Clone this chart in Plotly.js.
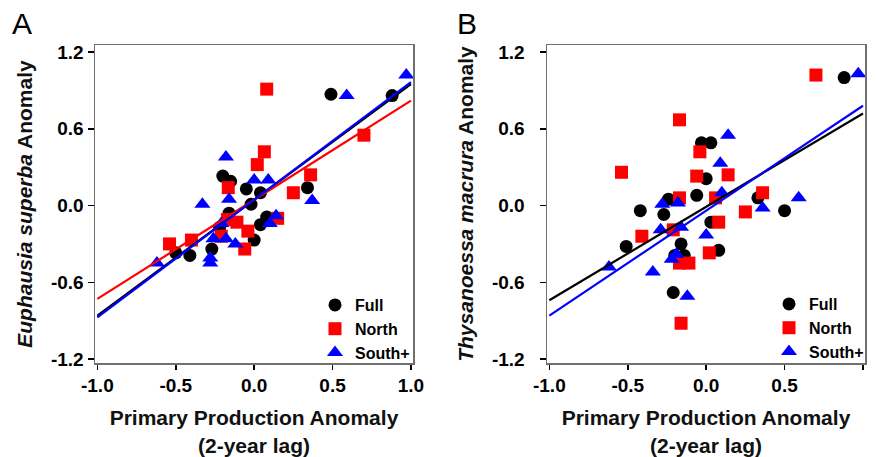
<!DOCTYPE html>
<html>
<head>
<meta charset="utf-8">
<script src="https://cdn.plot.ly/plotly-3.0.1.min.js"></script>
<style>html,body{margin:0;padding:0;background:#fff;}#chart{width:876px;height:457px;}</style>
</head>
<body>
<div id="chart"></div>
<script>
// ---------- Data ----------
// Panel A: Euphausia superba anomaly vs primary production anomaly (2-yr lag)
const fullAx  = [0.49, 0.88, 0.34, -0.20, -0.15, -0.05, 0.04, -0.02, -0.16, 0.04, 0.08, -0.22, -0.27, 0.00, -0.50, -0.41];
const fullAy  = [0.87, 0.86, 0.14, 0.23, 0.19, 0.13, 0.10, 0.01, -0.06, -0.15, -0.09, -0.17, -0.34, -0.27, -0.37, -0.39];
const northAx = [0.08, 0.70, 0.36, 0.25, 0.065, 0.02, -0.165, 0.15, -0.17, -0.11, -0.04, -0.21, -0.06, -0.54, -0.40];
const northAy = [0.91, 0.55, 0.24, 0.10, 0.42, 0.32, 0.14, -0.10, -0.11, -0.13, -0.20, -0.24, -0.34, -0.30, -0.27];
const southAx = [0.59, 0.97, 0.37, -0.18, 0.00, 0.09, -0.33, -0.16, 0.14, 0.10, -0.21, -0.26, -0.18, -0.12, -0.28, -0.28, -0.62];
const southAy = [0.86, 1.02, 0.04, 0.38, 0.20, 0.20, 0.01, 0.05, -0.08, -0.14, -0.14, -0.26, -0.26, -0.30, -0.41, -0.45, -0.45];

// Panel B: Thysanoessa macrura anomaly
const fullBx  = [0.88, -0.03, 0.03, 0.00, -0.06, 0.33, -0.24, -0.42, -0.27, 0.50, 0.03, 0.08, -0.51, -0.16, -0.20, -0.14, -0.21];
const fullBy  = [1.00, 0.49, 0.49, 0.21, 0.08, 0.06, 0.05, -0.04, -0.07, -0.04, -0.13, -0.35, -0.32, -0.30, -0.39, -0.39, -0.68];
const northBx = [0.70, -0.17, -0.04, -0.54, -0.06, 0.14, 0.36, -0.17, 0.06, 0.25, 0.08, 0.02, -0.41, -0.21, -0.17, -0.11, -0.16];
const northBy = [1.02, 0.67, 0.42, 0.26, 0.23, 0.24, 0.10, 0.06, 0.06, -0.05, -0.13, -0.37, -0.24, -0.19, -0.45, -0.45, -0.92];
const southBx = [0.97, 0.14, 0.09, 0.10, 0.59, -0.28, -0.18, 0.36, 0.00, -0.29, -0.16, -0.62, -0.22, -0.19, -0.34, -0.12];
const southBy = [1.03, 0.55, 0.33, 0.10, 0.06, 0.01, 0.02, -0.02, -0.23, -0.19, -0.17, -0.48, -0.42, -0.38, -0.52, -0.71];

// Regression line end points
const fitX       = [-1.0, 1.0];
const fitFullA   = [-0.86, 0.95];
const fitNorthA  = [-0.73, 0.82];
const fitSouthA  = [-0.875, 0.965];
const fitFullB   = [-0.74, 0.72];
const fitSouthB  = [-0.86, 0.78];

// Ticks
const xTickVals = [-1.0, -0.5, 0.0, 0.5, 1.0];
const xTickText = ["-1.0", "-0.5", "0.0", "0.5", "1.0"];
const yTickVals = [-1.2, -0.6, 0.0, 0.6, 1.2];
const yTickText = ["-1.2", "-0.6", "0.0", "0.6", "1.2"];

const seriesNames = ["Full", "North", "South+"];

// ---------- Styles ----------
const FONT = "Liberation Sans, Arial, sans-serif";
const cFull = "#000000", cNorth = "#ff0000", cSouth = "#0000ff";
const mFull  = {symbol: "circle", size: 13, color: cFull};
const mNorth = {symbol: "square", size: 13, color: cNorth};
const mSouth = {symbol: "triangle-up", size: 14, color: cSouth};

function pts(x, y, name, marker, xa, ya, leg) {
  return {type: "scatter", mode: "markers", x: x, y: y, name: name, marker: marker,
          xaxis: xa, yaxis: ya, legend: leg, hoverinfo: "skip", cliponaxis: false};
}
function line(x, y, color, xa, ya) {
  return {type: "scatter", mode: "lines", x: x, y: y, line: {color: color, width: 2.2},
          xaxis: xa, yaxis: ya, showlegend: false, hoverinfo: "skip"};
}

const traces = [
  pts(fullAx, fullAy, seriesNames[0], mFull, "x", "y", "legend"),
  pts(northAx, northAy, seriesNames[1], mNorth, "x", "y", "legend"),
  pts(southAx, southAy, seriesNames[2], mSouth, "x", "y", "legend"),
  line(fitX, fitFullA, cFull, "x", "y"),
  line(fitX, fitNorthA, cNorth, "x", "y"),
  line(fitX, fitSouthA, cSouth, "x", "y"),
  pts(fullBx, fullBy, seriesNames[0], mFull, "x2", "y2", "legend2"),
  pts(northBx, northBy, seriesNames[1], mNorth, "x2", "y2", "legend2"),
  pts(southBx, southBy, seriesNames[2], mSouth, "x2", "y2", "legend2"),
  line(fitX, fitFullB, cFull, "x2", "y2"),
  line(fitX, fitSouthB, cSouth, "x2", "y2")
];

const W = 876, H = 457;
const yDom = [1 - 363 / H, 1 - 45 / H];

function xAxis(domain, anchor) {
  return {
    domain: domain, anchor: anchor, range: [-1.015, 1.013],
    tickvals: xTickVals, ticktext: xTickText,
    ticks: "outside", ticklen: 5, tickwidth: 1.5, tickcolor: "#000",
    showline: true, mirror: true, linecolor: "#707070", linewidth: 1.5,
    showgrid: false, zeroline: false,
    tickfont: {family: FONT, size: 19, color: "#000", weight: "bold"},
    title: {text: "<b>Primary Production Anomaly<br>(2-year lag)</b>",
            font: {family: FONT, size: 21, color: "#111"}, standoff: 15}
  };
}
function yAxis(anchor, titleText, extraStandoff) {
  return {
    domain: yDom, anchor: anchor, range: [-1.231, 1.255],
    tickvals: yTickVals, ticktext: yTickText,
    ticks: "outside", ticklen: 6, tickwidth: 1.5, tickcolor: "#000",
    ticklabelstandoff: extraStandoff,
    showline: true, mirror: true, linecolor: "#707070", linewidth: 1.5,
    showgrid: false, zeroline: false,
    tickfont: {family: FONT, size: 19, color: "#000", weight: "bold"},
    title: {text: titleText, font: {family: FONT, size: 21, color: "#111"}, standoff: 12}
  };
}

const legendStyle = {
  font: {family: FONT, size: 16, color: "#000", weight: "bold"},
  bgcolor: "rgba(0,0,0,0)", borderwidth: 0,
  xanchor: "left", yanchor: "top", itemwidth: 30, tracegroupgap: 0
};

const layout = {
  width: W, height: H,
  margin: {l: 0, r: 0, t: 0, b: 0},
  paper_bgcolor: "#fff", plot_bgcolor: "#fff",
  font: {family: FONT},
  showlegend: true,
  xaxis: xAxis([95 / W, 413 / W], "y"),
  yaxis: yAxis("x", "<b><i>Euphausia superba</i> Anomaly</b>", 0),
  xaxis2: xAxis([547 / W, 865 / W], "y2"),
  yaxis2: yAxis("x2", "<b><i>Thysanoessa macrura</i> Anomaly</b>", 11),
  legend: Object.assign({}, legendStyle, {x: 315 / W, y: 1 - 288 / H}),
  legend2: Object.assign({}, legendStyle, {x: 769 / W, y: 1 - 287 / H}),
  annotations: [
    {text: "A", xref: "paper", yref: "paper", x: 10 / W, y: 1 - 5 / H, xanchor: "left", yanchor: "top",
     showarrow: false, font: {family: FONT, size: 30, color: "#000"}},
    {text: "B", xref: "paper", yref: "paper", x: 455 / W, y: 1 - 5 / H, xanchor: "left", yanchor: "top",
     showarrow: false, font: {family: FONT, size: 30, color: "#000"}}
  ]
};

Plotly.newPlot("chart", traces, layout, {displayModeBar: false, staticPlot: true});
</script>
</body>
</html>
